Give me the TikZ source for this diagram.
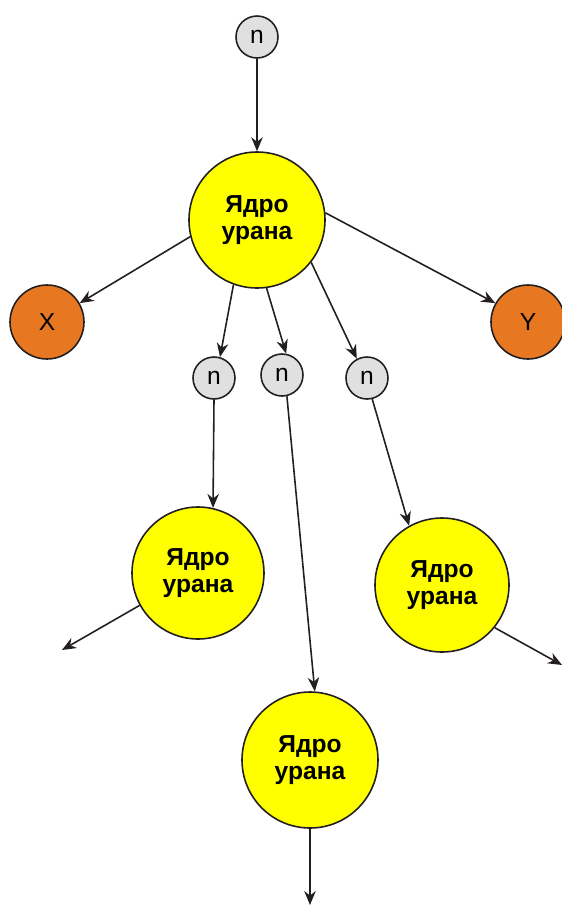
\documentclass[tikz,border=0pt]{standalone}
\usepackage{fontspec}
\setmainfont{Liberation Sans}
\usepackage{xcolor}
\usetikzlibrary{arrows.meta}

\definecolor{nucl}{RGB}{255,255,0}
\definecolor{frag}{RGB}{232,119,34}
\definecolor{neut}{RGB}{224,224,224}
\definecolor{edge}{RGB}{35,31,32}

\begin{document}
\begin{tikzpicture}[
  x=0.2mm,y=-0.2mm,
  font=\fontsize{14}{15}\selectfont,
  ball/.style={circle,draw=edge,line width=0.9pt,inner sep=0pt,align=center},
  nuc/.style={ball,fill=nucl,minimum size=27.2mm,font=\fontsize{14}{15.5}\selectfont\bfseries},
  neu/.style={ball,fill=neut,minimum size=8.4mm},
  frg/.style={ball,fill=frag,minimum size=14.8mm},
  link/.style={->,edge,line width=0.9pt},
  >={Stealth[length=2.8mm,width=2.3mm]}
]
\useasboundingbox (0,0) rectangle (562,910);
% ---- the first fission ----
\node[neu] (n0) at (257,37)  {n};
\node[nuc] (u1) at (257,220) {Ядро\\урана};
\node[frg] (fx) at (47,322)  {X};
\node[frg] (fy) at (528,322) {Y};
\draw[link] (n0.south) -- (u1.north);
\draw[link] (u1.194) -- (fx.30);
\draw[link] (u1.6) -- (fy.150);

% ---- the new neutrons ----
\node[neu] (n1) at (214,378) {n};
\node[neu] (n2) at (282,375) {n};
\node[neu] (n3) at (367,378) {n};
\draw[link] (u1.-110) -- (n1.74);
\draw[link] (u1.-82) -- (n2.79);
\draw[link] (u1.-38) -- (n3.118);

% ---- the next nuclei ----
\node[nuc,minimum size=26.4mm] (u2) at (198,573) {Ядро\\урана};
\node[nuc,minimum size=26.8mm] (u3) at (442,585) {Ядро\\урана};
\node[nuc] (u4) at (310,760) {Ядро\\урана};
\draw[link] (n1.south) -- (u2.77);
\draw[link] (n2.-77) -- (u4.86);
\draw[link] (n3.-76) -- (u3.119);

% ---- chain goes on ----
\coordinate (e2) at (62,650);
\coordinate (e3) at (562,665);
\coordinate (e4) at (310,905);
\draw[link] (u2.209) -- (e2);
\draw[link] (u3.-39) -- (e3);
\draw[link] (u4.south) -- (e4);
\end{tikzpicture}
\end{document}
